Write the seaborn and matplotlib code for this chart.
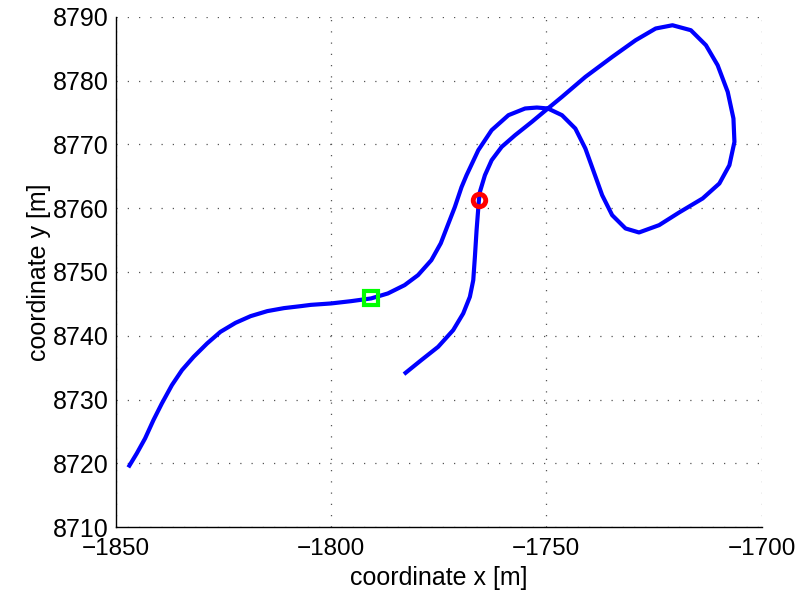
import numpy as np
import pandas as pd
import matplotlib
matplotlib.use("Agg")
import matplotlib.pyplot as plt
import seaborn as sns

# trajectory (x, y in metres)
path_x = [-1847.06, -1845.10, -1843.17, -1841.23, -1839.27, -1836.94, -1834.60, -1831.90,
          -1828.77, -1825.67, -1822.17, -1818.67, -1814.78, -1810.91, -1807.01, -1804.68,
          -1800.01, -1795.35, -1790.68, -1786.79, -1782.91, -1779.79, -1776.69, -1774.50,
          -1772.79, -1771.25, -1769.69, -1768.52, -1765.79, -1762.69, -1758.79, -1754.92,
          -1752.19, -1749.63, -1746.36, -1743.26, -1740.93, -1738.97, -1737.03, -1734.70,
          -1731.60, -1728.47, -1723.80, -1719.14, -1713.70, -1709.81, -1707.48, -1706.31,
          -1706.54, -1707.87, -1710.21, -1712.93, -1716.43, -1720.70, -1724.60, -1729.26,
          -1734.70, -1740.93, -1746.36, -1749.63, -1753.36, -1757.25, -1760.36, -1762.69,
          -1764.25, -1765.42, -1765.65, -1766.19, -1766.58, -1766.96, -1767.75, -1769.29,
          -1771.62, -1775.12, -1779.02, -1783.05]
path_y = [8719.36, 8721.55, 8723.90, 8726.77, 8729.39, 8732.26, 8734.61, 8736.69,
          8738.79, 8740.61, 8742.02, 8743.07, 8743.86, 8744.33, 8744.64, 8744.84,
          8745.06, 8745.42, 8745.85, 8746.63, 8747.93, 8749.50, 8751.85, 8754.50,
          8757.49, 8760.16, 8763.29, 8765.17, 8769.09, 8772.23, 8774.58, 8775.63,
          8775.78, 8775.63, 8774.58, 8772.49, 8769.36, 8765.69, 8762.04, 8758.90,
          8756.82, 8756.19, 8757.34, 8759.33, 8761.52, 8763.87, 8766.74, 8770.39,
          8774.06, 8778.23, 8782.41, 8785.55, 8787.90, 8788.68, 8788.17, 8786.33,
          8783.71, 8780.58, 8777.45, 8775.63, 8773.53, 8771.44, 8769.61, 8767.52,
          8765.17, 8762.55, 8761.25, 8756.55, 8752.37, 8748.71, 8746.10, 8743.50,
          8740.88, 8738.26, 8736.18, 8733.98]

square_xy = (-1790.68, 8745.85)
circle_xy = (-1765.65, 8761.25)

x_ticks = [-1850, -1800, -1750, -1700]
y_ticks = [8710, 8720, 8730, 8740, 8750, 8760, 8770, 8780, 8790]

sns.set_style("white")
plt.rcParams['font.family'] = ['Liberation Sans', 'DejaVu Sans']

fig = plt.figure(figsize=(7.95, 6.01), dpi=100)
ax = fig.add_axes([0.1455, 0.123, 0.8125, 0.849])

df = pd.DataFrame({'x': path_x, 'y': path_y})
sns.lineplot(data=df, x='x', y='y', sort=False, estimator=None,
             color=(0, 0, 1), linewidth=3, ax=ax,
             solid_joinstyle='round', solid_capstyle='butt')

ax.plot(*square_xy, marker='s', markersize=10.5, markerfacecolor='none',
        markeredgecolor=(0, 1, 0), markeredgewidth=3, linestyle='none')
ax.plot(*circle_xy, marker='o', markersize=9, markerfacecolor='none',
        markeredgecolor=(1, 0, 0), markeredgewidth=3.5, linestyle='none')

ax.set_xlim(-1850, -1700)
ax.set_ylim(8710, 8790)
ax.set_xticks(x_ticks)
ax.set_yticks(y_ticks)
ax.set_xticklabels([f"\u2212{abs(v)}" for v in x_ticks])
ax.set_yticklabels([str(v) for v in y_ticks])
ax.tick_params(direction='in', length=6, width=0.8, labelsize=18, colors='black')
ax.tick_params(axis='x', pad=8, labelsize=17.5)
ax.tick_params(axis='y', pad=5)
ax.grid(True, linestyle=(0, (1, 8)), color='#555555', linewidth=0.9)

for side in ['top', 'right']:
    ax.spines[side].set_visible(False)
for side in ['left', 'bottom']:
    ax.spines[side].set_color('black')
    ax.spines[side].set_linewidth(1.0)

ax.set_xlabel('coordinate x [m]', fontsize=18, color='black', labelpad=4)
ax.set_ylabel('coordinate y [m]', fontsize=18, color='black', labelpad=1)

fig.savefig('out.png', dpi=100)
